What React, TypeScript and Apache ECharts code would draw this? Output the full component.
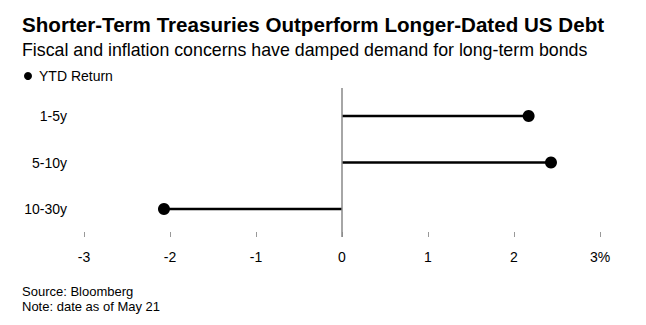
import React, { useEffect, useRef } from "react";
import * as echarts from "echarts";

const categories = ["1-5y", "5-10y", "10-30y"];
const ytdReturn = [2.17, 2.43, -2.07];
const xTicks = [-3, -2, -1, 0, 1, 2, 3];

const FONT = "'Liberation Sans', Arial, Helvetica, sans-serif";

export default function App() {
  const ref = useRef<HTMLDivElement>(null);
  useEffect(() => {
    if (!ref.current) return;
    const chart = echarts.init(ref.current, null, { renderer: "svg" });
    const points = ytdReturn.map((v, i) => [v, i]);
    chart.setOption({
      animation: false,
      backgroundColor: "#ffffff",
      textStyle: { fontFamily: FONT },
      title: [
        {
          text: "Shorter-Term Treasuries Outperform Longer-Dated US Debt",
          left: 22,
          top: 14,
          padding: 0,
          textStyle: { fontFamily: FONT, fontSize: 20.6, fontWeight: "bold", color: "#000" },
        },
        {
          text: "Fiscal and inflation concerns have damped demand for long-term bonds",
          left: 22,
          top: 41,
          padding: 0,
          textStyle: { fontFamily: FONT, fontSize: 17.8, fontWeight: "normal", color: "#000" },
        },
        {
          text: "Source: Bloomberg",
          left: 22,
          top: 285,
          padding: 0,
          textStyle: { fontFamily: FONT, fontSize: 13, fontWeight: "normal", color: "#000" },
        },
        {
          text: "Note: date as of May 21",
          left: 22,
          top: 300,
          padding: 0,
          textStyle: { fontFamily: FONT, fontSize: 13, fontWeight: "normal", color: "#000" },
        },
      ],
      legend: {
        left: 24,
        top: 69,
        padding: 0,
        icon: "circle",
        itemWidth: 8,
        itemHeight: 8,
        itemGap: 10,
        textStyle: { fontFamily: FONT, fontSize: 14, color: "#000", padding: [0, 0, 0, 2] },
        data: [{ name: "YTD Return", itemStyle: { color: "#000" } }],
      },
      grid: { left: 84, right: 46, top: 88, bottom: 325 - 237 },
      xAxis: {
        type: "value",
        min: xTicks[0],
        max: xTicks[xTicks.length - 1],
        interval: 1,
        axisLine: { show: false, onZero: false },
        splitLine: { show: false },
        axisTick: { show: true, inside: true, length: 5, lineStyle: { color: "#999", width: 1 } },
        axisLabel: {
          margin: 13,
          fontFamily: FONT,
          fontSize: 14,
          color: "#000",
          formatter: (v: number) => (v === xTicks[xTicks.length - 1] ? `${v}%` : `${v}`),
        },
      },
      yAxis: {
        type: "value",
        inverse: true,
        min: -0.6,
        max: categories.length - 1 + 0.6,
        axisLine: { show: false },
        axisTick: { show: false },
        splitLine: { show: false },
        axisLabel: {
          margin: 17,
          fontFamily: FONT,
          fontSize: 14,
          color: "#000",
          customValues: categories.map((_, i) => i),
          formatter: (v: number) => categories[Math.round(v)] ?? "",
        },
      },
      series: [
        {
          name: "stems",
          type: "custom",
          silent: true,
          z: 2,
          data: points,
          renderItem: (params: any, api: any) => {
            const v = api.value(0);
            const i = api.value(1);
            const a = api.coord([0, i]);
            const b = api.coord([v, i]);
            return {
              type: "line",
              shape: { x1: a[0], y1: a[1], x2: b[0], y2: b[1] },
              style: { stroke: "#000", lineWidth: 2.5 },
            };
          },
          markLine: {
            silent: true,
            symbol: "none",
            label: { show: false },
            lineStyle: { color: "#888", width: 1.5, type: "solid" },
            data: [{ xAxis: 0 }],
          },
        },
        {
          name: "YTD Return",
          type: "scatter",
          symbol: "circle",
          symbolSize: 12,
          z: 3,
          itemStyle: { color: "#000", opacity: 1 },
          data: points,
        },
      ],
    });
    return () => chart.dispose();
  }, []);
  return <div ref={ref} style={{ width: 646, height: 325, position: "absolute", left: 0, top: 0 }} />;
}
